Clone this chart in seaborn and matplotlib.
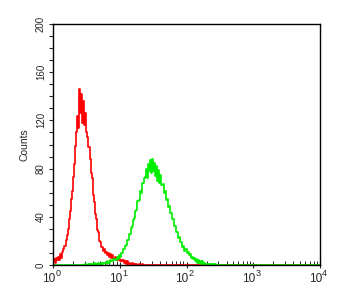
import numpy as np
import pandas as pd
import matplotlib
matplotlib.use("Agg")
import matplotlib.pyplot as plt
import seaborn as sns
from matplotlib.ticker import MultipleLocator, LogLocator
from matplotlib.transforms import blended_transform_factory, offset_copy

# 256 channels over 4 decades (64 per decade); counts
channels_per_decade = 64
n_channels = 256

red_counts = [3, 5, 2, 6, 4, 7, 4, 9, 6, 11, 13, 16, 21, 25, 30, 38,
              45, 55, 61, 73, 84, 99, 110, 124, 114, 146, 126, 142, 118, 136, 116, 126,
              110, 106, 98, 88, 76, 72, 58, 52, 42, 38, 29, 27, 20, 19, 15, 15,
              12, 13, 10, 11, 8, 10, 7, 9, 6, 8, 5, 7, 4, 6, 4, 5,
              3, 4, 3, 4, 2, 3, 1, 3, 1, 2, 1, 1, 2, 1, 0, 1,
              1, 0, 1, 0, 0, 1]

green_start = 30
green_counts = [0, 1, 0, 0, 1, 0, 1, 1, 0, 2, 1, 0, 1, 2, 1, 1, 2, 1, 2, 2,
                2, 1, 3, 2, 2, 4, 3, 3, 5, 4, 4, 7, 5, 8,
                7, 10, 10, 13, 13, 16, 17, 21, 21, 26, 26, 31, 32, 37, 39, 45,
                46, 53, 54, 61, 60, 68, 68, 72, 73, 80, 72, 84, 78, 87, 76, 88,
                78, 85, 74, 82, 70, 79, 68, 75, 66, 67, 60, 61, 54, 55, 48, 49,
                43, 43, 38, 38, 32, 32, 27, 27, 22, 23, 19, 19, 15, 16, 12, 13,
                10, 11, 8, 9, 6, 7, 5, 6, 3, 5, 2, 4, 2, 3, 1, 3,
                1, 2, 1, 1, 1, 0, 1, 1, 0, 1, 0, 1]

y_ticks = [0, 40, 80, 120, 160, 200]
x_ticks = [1, 10, 100, 1000, 10000]

red_full = np.zeros(n_channels)
red_full[:len(red_counts)] = red_counts
green_full = np.zeros(n_channels)
green_full[green_start:green_start + len(green_counts)] = green_counts
x_centers = 10 ** ((np.arange(n_channels) + 0.5) / channels_per_decade)

df = pd.DataFrame({"fl": np.concatenate([x_centers, x_centers]),
                   "count": np.concatenate([red_full, green_full]),
                   "sample": ["control"] * n_channels + ["stained"] * n_channels})

sns.set_style("ticks")
plt.rcParams["font.family"] = ["Liberation Sans", "DejaVu Sans"]

fig = plt.figure(figsize=(3.47, 3.01), dpi=100)
ax = fig.add_axes([53 / 347, 1 - 265 / 301, (320 - 53) / 347, (265 - 24) / 301])

sns.lineplot(data=df, x="fl", y="count", hue="sample",
             palette={"control": "#ff0000", "stained": "#00ee00"},
             drawstyle="steps-mid", linewidth=1.2, legend=False, ax=ax)

ax.set_xscale("log")
ax.set_xlim(1, 10000)
ax.set_ylim(0, 200)
ax.set_xticks(x_ticks)
ax.set_xticklabels([])
ax.xaxis.set_minor_locator(LogLocator(base=10, subs=np.arange(2, 10), numticks=20))
ax.set_yticks(y_ticks)
ax.set_yticklabels([str(v) for v in y_ticks], fontsize=7, rotation=90, va="center")
ax.yaxis.set_minor_locator(MultipleLocator(10))
ax.tick_params(axis="y", which="both", direction="out", length=3, width=0.8, pad=2)
ax.tick_params(axis="x", which="major", direction="inout", length=4, width=0.8, pad=1)
ax.tick_params(axis="x", which="minor", direction="in", length=3, width=0.7)
for s in ax.spines.values():
    s.set_visible(True)
    s.set_linewidth(1.0)
    s.set_color("black")

# x tick labels: "10" with a superscript exponent
trans = blended_transform_factory(ax.transData, ax.transAxes)
for v in x_ticks:
    e = int(np.log10(v))
    base_t = offset_copy(trans, fig=fig, x=-3.2, y=-6.0, units="points")
    ax.text(v, 0, "10", transform=base_t, ha="center", va="top", fontsize=8.5)
    exp_t = offset_copy(trans, fig=fig, x=1.6, y=-3.0, units="points")
    ax.text(v, 0, str(e), transform=exp_t, ha="left", va="top", fontsize=6.5)

ax.set_xlabel("")
ax.set_ylabel("Counts", fontsize=7.5, labelpad=4.5)

fig.savefig("out.png", dpi=100)
